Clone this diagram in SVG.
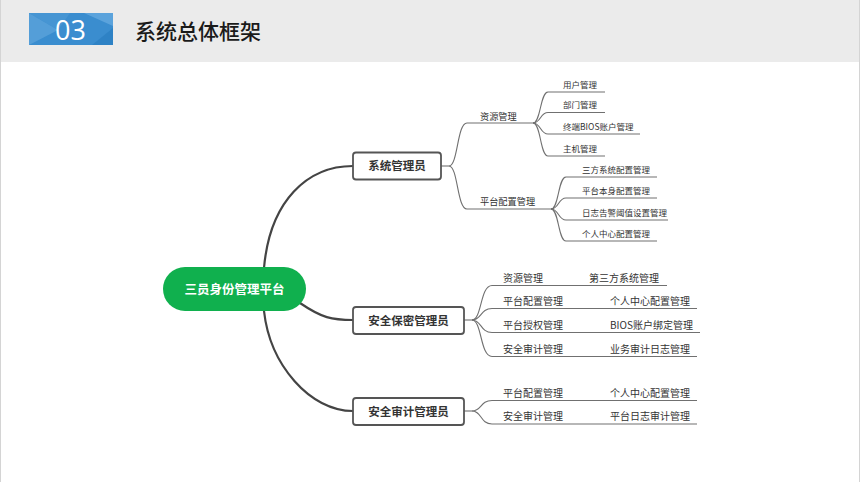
<svg xmlns="http://www.w3.org/2000/svg" width="860" height="482" viewBox="0 0 860 482">
<style>
.cjk{font-family:"Noto Sans CJK SC","Liberation Sans",sans-serif}
.thick{fill:none;stroke:#444;stroke-width:2.2;stroke-linecap:round}
.thin{fill:none;stroke:#707070;stroke-width:1.1}
.box{fill:#fff;stroke:#555;stroke-width:1.8}
.l1{font-size:11.5px;font-weight:700;fill:#333;text-anchor:middle}
.l2{font-size:9.2px;fill:#333}
.l3{font-size:8.5px;fill:#333}
.lf{font-size:10px;fill:#333}
</style>
<rect x="0" y="0" width="860" height="482" fill="#fff"/>
<rect x="0" y="0" width="860" height="62" fill="#ebebeb"/>
<line x1="0.5" y1="0" x2="0.5" y2="482" stroke="#d4d4d4"/>
<line x1="859.5" y1="0" x2="859.5" y2="482" stroke="#d4d4d4"/>
<g id="badge">
<rect x="29" y="13" width="84" height="32" fill="#3a8dcf"/>
<polygon points="29,13 29,45 58,30" fill="#5ba2d9" opacity="0.8"/>
<polygon points="29,13 70,13 58,30" fill="#4c98d4" opacity="0.7"/>
<polygon points="84,13 113,13 113,26" fill="#64a9de" opacity="0.8"/>
<polygon points="92,45 113,45 113,28" fill="#2c7fc2" opacity="0.8"/>
<text x="70.5" y="39.5" font-family="'Open Sans','Noto Sans',sans-serif" font-size="27" fill="#fff" text-anchor="middle">03</text>
</g>
<text x="135" y="38.5" class="cjk" font-size="21" font-weight="500" fill="#1a1a1a">系统总体框架</text>

<g id="connectors">
<path class="thick" d="M264,268 C270,200 308,166 353,166"/>
<path class="thick" d="M300,303 C322,318 332,320 353,320"/>
<path class="thick" d="M264,311 C270,365 310,411 353,411"/>
<path class="thin" d="M441,166 H449"/>
<path class="thin" d="M449,166 C458,166 457,123 467,123 H533"/>
<path class="thin" d="M449,166 C458,166 457,209 467,209 H551"/>
<path class="thin" d="M533,123 C541,123 540,92 548,92 H605"/>
<path class="thin" d="M533,123 C541,123 540,112.5 548,112.5 H605"/>
<path class="thin" d="M533,123 C541,123 540,134 548,134 H640"/>
<path class="thin" d="M533,123 C541,123 540,156 548,156 H605"/>
<path class="thin" d="M551,209 C559,209 558,177 566,177 H657"/>
<path class="thin" d="M551,209 C559,209 558,198 566,198 H657"/>
<path class="thin" d="M551,209 C559,209 558,220 566,220 H668"/>
<path class="thin" d="M551,209 C559,209 558,241 566,241 H657"/>
<path class="thin" d="M464,320 H472"/>
<path class="thin" d="M472,320 C482,320 480,285.5 492,285.5 H667"/>
<path class="thin" d="M472,320 C482,320 480,308.5 492,308.5 H697"/>
<path class="thin" d="M472,320 C482,320 480,332.5 492,332.5 H700"/>
<path class="thin" d="M472,320 C482,320 480,356.5 492,356.5 H697"/>
<path class="thin" d="M464,411 H472"/>
<path class="thin" d="M472,411 C482,411 480,400.5 492,400.5 H697"/>
<path class="thin" d="M472,411 C482,411 480,424 492,424 H697"/>
</g>

<g id="root">
<rect x="163" y="267" width="143" height="44" rx="22" fill="#10b04e"/>
<text x="234.5" y="293.5" class="cjk" font-size="12.5" font-weight="700" fill="#fff" text-anchor="middle">三员身份管理平台</text>
</g>
<g id="sysadmin">
<rect class="box" x="353" y="152.5" width="88" height="27" rx="3"/>
<text x="397" y="170" class="cjk l1">系统管理员</text>
</g>
<g id="secadmin">
<rect class="box" x="353" y="307" width="111" height="27" rx="3"/>
<text x="408.5" y="324.5" class="cjk l1">安全保密管理员</text>
</g>
<g id="auditadmin">
<rect class="box" x="353" y="398" width="111" height="27" rx="3"/>
<text x="408.5" y="415.5" class="cjk l1">安全审计管理员</text>
</g>

<g id="sys-res"><text x="480" y="119.5" class="cjk l2">资源管理</text></g>
<g id="sys-plat"><text x="480" y="205" class="cjk l2">平台配置管理</text></g>
<g id="sys-res-user"><text x="563" y="87.5" class="cjk l3">用户管理</text></g>
<g id="sys-res-dept"><text x="563" y="108" class="cjk l3">部门管理</text></g>
<g id="sys-res-bios"><text x="563" y="129.5" class="cjk l3">终端BIOS账户管理</text></g>
<g id="sys-res-host"><text x="563" y="151.5" class="cjk l3">主机管理</text></g>
<g id="sys-plat-3rd"><text x="582" y="173" class="cjk l3">三方系统配置管理</text></g>
<g id="sys-plat-self"><text x="582" y="194" class="cjk l3">平台本身配置管理</text></g>
<g id="sys-plat-log"><text x="582" y="216" class="cjk l3">日志告警阈值设置管理</text></g>
<g id="sys-plat-me"><text x="582" y="237" class="cjk l3">个人中心配置管理</text></g>

<g id="sec-res"><text x="503" y="281.5" class="cjk lf">资源管理</text><text x="589" y="281.5" class="cjk lf">第三方系统管理</text></g>
<g id="sec-plat"><text x="503" y="304.5" class="cjk lf">平台配置管理</text><text x="610" y="304.5" class="cjk lf">个人中心配置管理</text></g>
<g id="sec-auth"><text x="503" y="328.5" class="cjk lf">平台授权管理</text><text x="610" y="328.5" class="cjk lf">BIOS账户绑定管理</text></g>
<g id="sec-audit"><text x="503" y="352.5" class="cjk lf">安全审计管理</text><text x="610" y="352.5" class="cjk lf">业务审计日志管理</text></g>
<g id="aud-plat"><text x="503" y="396.5" class="cjk lf">平台配置管理</text><text x="610" y="396.5" class="cjk lf">个人中心配置管理</text></g>
<g id="aud-audit"><text x="503" y="420" class="cjk lf">安全审计管理</text><text x="610" y="420" class="cjk lf">平台日志审计管理</text></g>
</svg>
